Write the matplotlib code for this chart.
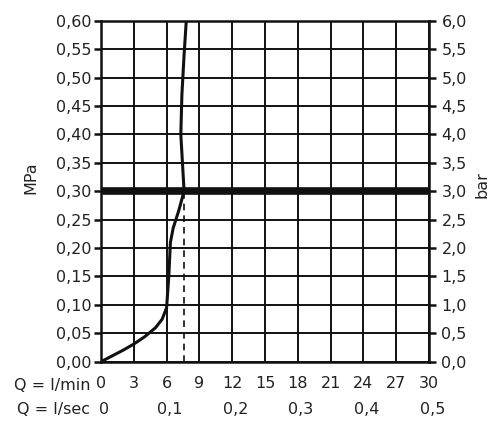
import matplotlib.pyplot as plt
import matplotlib.transforms as mtransforms
import numpy as np

plt.rcParams['font.family'] = ['DejaVu Sans']

# flow (l/min) vs pressure (MPa)
flow_lmin = [0, 1, 2, 3, 4, 5, 5.6, 6.0, 6.2, 6.35, 6.6, 7.1, 7.6, 7.45, 7.3, 7.4, 7.6, 7.8]
pressure_mpa = [0, 0.01, 0.02, 0.031, 0.044, 0.06, 0.075, 0.095, 0.15, 0.21, 0.235, 0.265, 0.30, 0.35, 0.40, 0.47, 0.54, 0.60]

ref_pressure = 0.30
ref_flow = 7.6

lmin_ticks = [0, 3, 6, 9, 12, 15, 18, 21, 24, 27, 30]
lsec_pos = [0, 6, 12, 18, 24, 30]
lsec_labels = ['0', '0,1', '0,2', '0,3', '0,4', '0,5']
mpa_ticks = np.arange(0, 0.601, 0.05)
bar_ticks = np.arange(0, 6.01, 0.5)

fig = plt.figure(figsize=(4.99, 4.22), dpi=100)
ax = fig.add_axes([0.2024, 0.1429, 0.6573, 0.8081])

ax.set_xlim(0, 30)
ax.set_ylim(0, 0.60)
ax.set_xticks(lmin_ticks)
ax.set_xticklabels([str(t) for t in lmin_ticks])
ax.set_yticks(mpa_ticks)
ax.set_yticklabels([f'{v:.2f}'.replace('.', ',') for v in mpa_ticks])
ax.grid(True, color='#111111', linewidth=1.4)
ax.set_axisbelow(True)

ax.tick_params(axis='y', direction='out', length=5, width=1.8, labelsize=11.5,
               color='#111111', labelcolor='#222222', pad=2)
ax.tick_params(axis='x', length=0, labelsize=11.5, labelcolor='#222222', pad=10)
for s in ax.spines.values():
    s.set_linewidth(1.8)
    s.set_color('#111111')

ax.axhline(ref_pressure, color='#111111', linewidth=5.5, zorder=3)
ax.plot([ref_flow, ref_flow], [0, ref_pressure], color='#111111', linewidth=1.2,
        linestyle=(0, (4, 3)), zorder=3)
ax.plot(flow_lmin, pressure_mpa, color='#111111', linewidth=2.2, zorder=4,
        solid_capstyle='round')

ax.set_ylabel('MPa', fontsize=11.5, color='#222222')
ax.yaxis.set_label_coords(-0.19, 0.54)

ax2 = ax.twinx()
ax2.set_ylim(0, 6.0)
ax2.set_yticks(bar_ticks)
ax2.set_yticklabels([f'{v:.1f}'.replace('.', ',') for v in bar_ticks])
ax2.tick_params(axis='y', direction='out', length=5, width=1.8, labelsize=11.5,
                color='#111111', labelcolor='#222222', pad=4)
ax2.set_ylabel('bar', fontsize=11.5, color='#222222')
ax2.yaxis.set_label_coords(1.14, 0.52)
for s in ax2.spines.values():
    s.set_visible(False)

trans = mtransforms.blended_transform_factory(ax.transData, ax.transAxes)
ax.text(-1, -0.07, 'Q = l/min', transform=trans, ha='right', va='center',
        fontsize=11.5, color='#222222')
ax.text(-1, -0.14, 'Q = l/sec', transform=trans, ha='right', va='center',
        fontsize=11.5, color='#222222')
for p, lab in zip(lsec_pos, lsec_labels):
    ax.text(p + 0.3, -0.14, lab, transform=trans, ha='center', va='center',
            fontsize=11.5, color='#222222')

fig.savefig('out.png', dpi=100)
